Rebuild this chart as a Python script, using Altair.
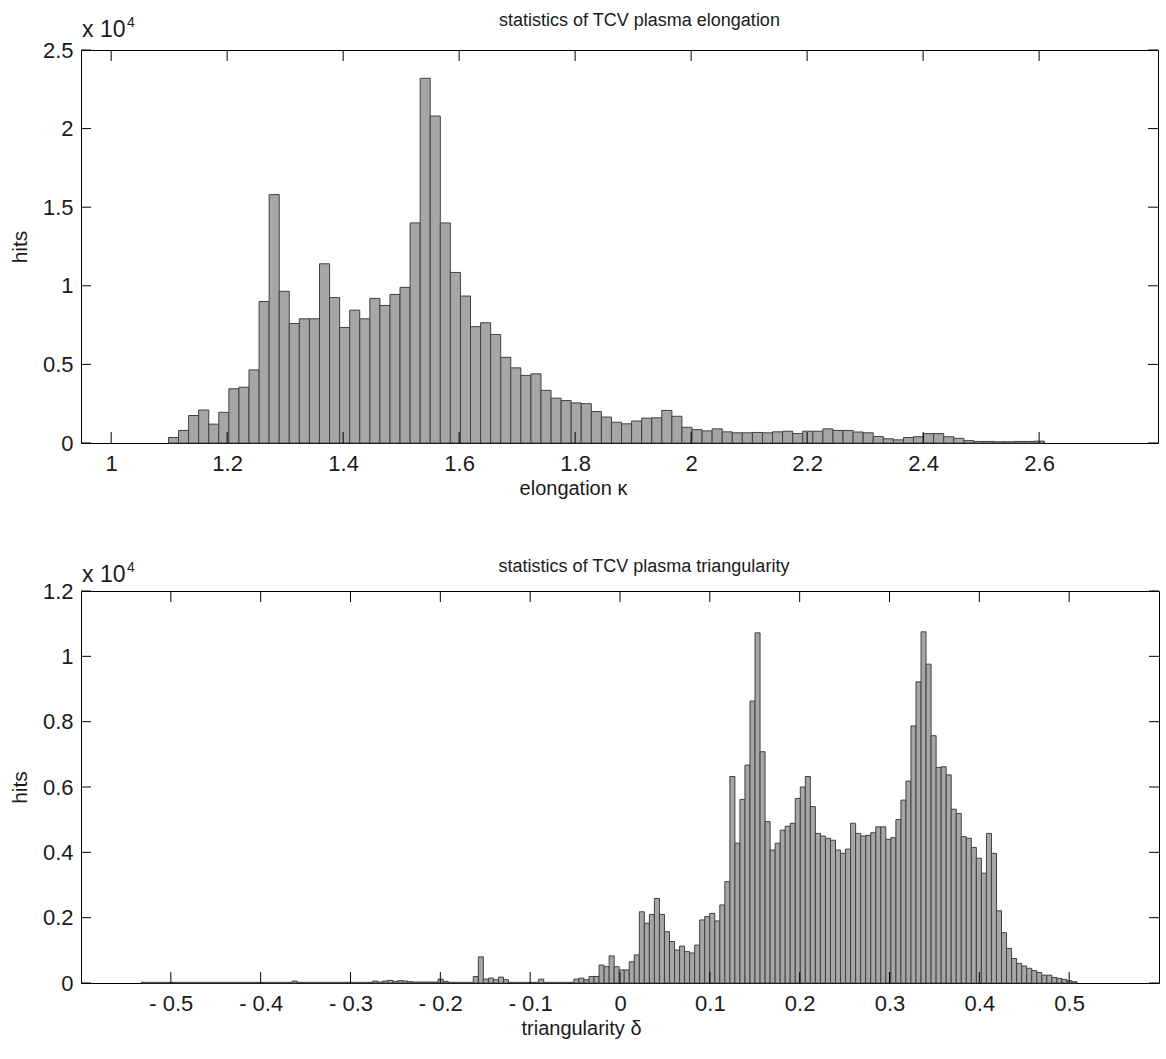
import altair as alt
import pandas as pd

# ---------------- data (hits in units of 10^4) ----------------
kappa_first_edge = 1.0988
kappa_bin_width = 0.01736
kappa_hits = [
    0.035, 0.08, 0.175, 0.21, 0.12, 0.195, 0.345, 0.355, 0.465, 0.90,
    1.58, 0.965, 0.76, 0.79, 0.79, 1.14, 0.925, 0.735, 0.845, 0.79,
    0.92, 0.875, 0.945, 0.99, 1.40, 2.32, 2.08, 1.40, 1.085, 0.935,
    0.74, 0.765, 0.69, 0.545, 0.478, 0.43, 0.44, 0.335, 0.285, 0.27,
    0.255, 0.25, 0.20, 0.165, 0.132, 0.122, 0.14, 0.158, 0.16, 0.207,
    0.17, 0.10, 0.085, 0.077, 0.09, 0.071, 0.065, 0.065, 0.067, 0.065,
    0.071, 0.075, 0.06, 0.075, 0.075, 0.09, 0.08, 0.08, 0.07, 0.065,
    0.041, 0.027, 0.02, 0.035, 0.04, 0.06, 0.06, 0.04, 0.03, 0.015,
    0.01, 0.01, 0.008, 0.008, 0.01, 0.01, 0.012,
]

delta_first_edge = -0.5945
delta_bin_width = 0.0056
delta_hits = [
    # far negative tail
    0, 0, 0, 0, 0, 0, 0, 0, 0, 0, 0,
    0.002, 0.002, 0.002, 0.002, 0.002, 0.002, 0.002, 0.002, 0.002, 0.002,
    0.002, 0.002, 0.002, 0.002, 0.002, 0.002, 0.002, 0.002, 0.002, 0.002,
    0.002, 0.002, 0.002, 0.002, 0.002, 0.002, 0.002, 0.002, 0.002, 0.002,
    0.006,
    0.002, 0.002, 0.002, 0.002, 0.002, 0.002, 0.002, 0.002, 0.002, 0.002,
    0.002, 0.002, 0.002, 0.002, 0.002,
    0.006, 0.003,
    0.006, 0.008, 0.005, 0.007, 0.006, 0.004,
    0.003, 0.003, 0.003, 0.003, 0.003,
    0.012, 0.005,
    0.002, 0.002, 0.002, 0.002, 0.002,
    0.02, 0.08, 0.012, 0.015, 0.01, 0.018, 0.01,
    0.002, 0.002, 0.002, 0.002, 0.002, 0.002,
    0.012,
    0.002, 0.002, 0.002, 0.002, 0.002, 0.002,
    0.012, 0.015, 0.01, 0.02, 0.02, 0.055, 0.05, 0.083, 0.05, 0.04,
    0.04, 0.065, 0.086,
    # main body
    0.218, 0.183, 0.21, 0.259, 0.21, 0.157, 0.127, 0.101, 0.113, 0.096,
    0.092, 0.116, 0.193, 0.203, 0.213, 0.19, 0.239, 0.31, 0.632, 0.428,
    0.562, 0.667, 0.863, 1.072, 0.708, 0.494, 0.407, 0.428, 0.468, 0.48,
    0.489, 0.565, 0.60, 0.632, 0.54, 0.458, 0.45, 0.443, 0.437, 0.407,
    0.397, 0.41, 0.489, 0.458, 0.45, 0.452, 0.46, 0.478, 0.478, 0.44,
    0.445, 0.50, 0.56, 0.618, 0.787, 0.922, 1.075, 0.976, 0.757, 0.66,
    0.662, 0.637, 0.532, 0.519, 0.448, 0.443, 0.415, 0.382, 0.336, 0.458,
    0.397, 0.221, 0.154, 0.106, 0.075, 0.06, 0.052, 0.045, 0.038, 0.032,
    0.024, 0.024, 0.017, 0.014, 0.011, 0.007, 0.004,
]

kappa_ticks = [1.0, 1.2, 1.4, 1.6, 1.8, 2.0, 2.2, 2.4, 2.6]
kappa_y_ticks = [0, 0.5, 1.0, 1.5, 2.0, 2.5]
delta_ticks = [-0.5, -0.4, -0.3, -0.2, -0.1, 0.0, 0.1, 0.2, 0.3, 0.4, 0.5]
delta_y_ticks = [0, 0.2, 0.4, 0.6, 0.8, 1.0, 1.2]

FONT = "Liberation Sans"
TXT = "#1a1a1a"


def hist_df(first, width, hits):
    rows = []
    for i, h in enumerate(hits):
        lo = first + i * width
        if h > 0:
            rows.append({"lo": lo, "hi": lo + width, "hits": h})
    return pd.DataFrame(rows)


LABEL_EXPR = ("datum.value < 0 ? '- ' + format(-datum.value, '.1~f') "
              ": format(datum.value, '.1~f')")


def panel(df, xdom, ydom, xticks, yticks, title, xtitle, w, h,
          title_dx, title_y, xtitle_x, mult_y):
    xs = alt.Scale(domain=xdom, nice=False, zero=False)
    ys = alt.Scale(domain=ydom, nice=False)
    xaxis = alt.Axis(
        values=xticks, title=xtitle, labelExpr=LABEL_EXPR, ticks=False,
        tickSize=0, grid=False, domain=False, labelPadding=10,
        labelFont=FONT, labelFontSize=22, labelColor=TXT,
        titleFont=FONT, titleFontSize=20, titleFontWeight="normal",
        titleColor=TXT, titlePadding=4, titleX=xtitle_x, labelFlush=False)
    yaxis = alt.Axis(
        values=yticks, title="hits", labelExpr=LABEL_EXPR, ticks=False,
        tickSize=0, grid=False, domain=False, labelPadding=8,
        labelFont=FONT, labelFontSize=22, labelColor=TXT,
        titleFont=FONT, titleFontSize=21, titleFontWeight="normal",
        titleColor=TXT, titlePadding=12, labelFlush=False)
    bars = alt.Chart(df).mark_rect(
        fill="#a6a6a6", stroke="#404040", strokeWidth=1
    ).encode(
        x=alt.X("lo:Q", scale=xs, axis=xaxis),
        x2="hi:Q",
        y=alt.Y("hits:Q", scale=ys, axis=yaxis),
        y2=alt.datum(0),
    )
    xt = pd.DataFrame({"v": xticks})
    yt = pd.DataFrame({"v": yticks})
    tb = alt.Chart(xt).mark_rule(color="black", strokeWidth=1).encode(
        x=alt.X("v:Q", scale=xs, axis=xaxis), y=alt.value(h), y2=alt.value(h - 11))
    tt = alt.Chart(xt).mark_rule(color="black", strokeWidth=1).encode(
        x=alt.X("v:Q", scale=xs, axis=xaxis), y=alt.value(0), y2=alt.value(11))
    tl = alt.Chart(yt).mark_rule(color="black", strokeWidth=1).encode(
        y=alt.Y("v:Q", scale=ys, axis=yaxis), x=alt.value(0), x2=alt.value(10))
    tr = alt.Chart(yt).mark_rule(color="black", strokeWidth=1).encode(
        y=alt.Y("v:Q", scale=ys, axis=yaxis), x=alt.value(w), x2=alt.value(w - 10))
    ann = pd.DataFrame({"t": ["x 10"], "e": ["4"], "title": [title]})
    mult = alt.Chart(ann).mark_text(
        font=FONT, fontSize=23, color=TXT, align="left", baseline="alphabetic"
    ).encode(text="t:N", x=alt.value(1), y=alt.value(mult_y))
    expo = alt.Chart(ann).mark_text(
        font=FONT, fontSize=14, color=TXT, align="left", baseline="alphabetic"
    ).encode(text="e:N", x=alt.value(46), y=alt.value(mult_y - 10))
    ttl = alt.Chart(ann).mark_text(
        font=FONT, fontSize=18, color=TXT, align="center", baseline="alphabetic"
    ).encode(text="title:N", x=alt.value(w / 2 + title_dx), y=alt.value(title_y))
    return alt.layer(bars, tb, tt, tl, tr, mult, expo, ttl).properties(
        width=w, height=h)


top = panel(hist_df(kappa_first_edge, kappa_bin_width, kappa_hits),
            [0.948, 2.805], [0, 2.5], kappa_ticks, kappa_y_ticks,
            "statistics of TCV plasma elongation", "elongation κ", 1077, 393,
            20, -24, 492, -13)
bottom = panel(hist_df(delta_first_edge, delta_bin_width, delta_hits),
               [-0.6, 0.6], [0, 1.2], delta_ticks, delta_y_ticks,
               "statistics of TCV plasma triangularity", "triangularity δ", 1078, 392,
               24, -19, 500, -9)

chart = alt.vconcat(top, bottom, spacing=58).properties(
    padding={"left": 8, "top": 11, "right": 4, "bottom": 4},
    background="white",
).configure_view(stroke="black", strokeWidth=1)

chart.save("out.html", embed_options={"renderer": "svg", "actions": False})
